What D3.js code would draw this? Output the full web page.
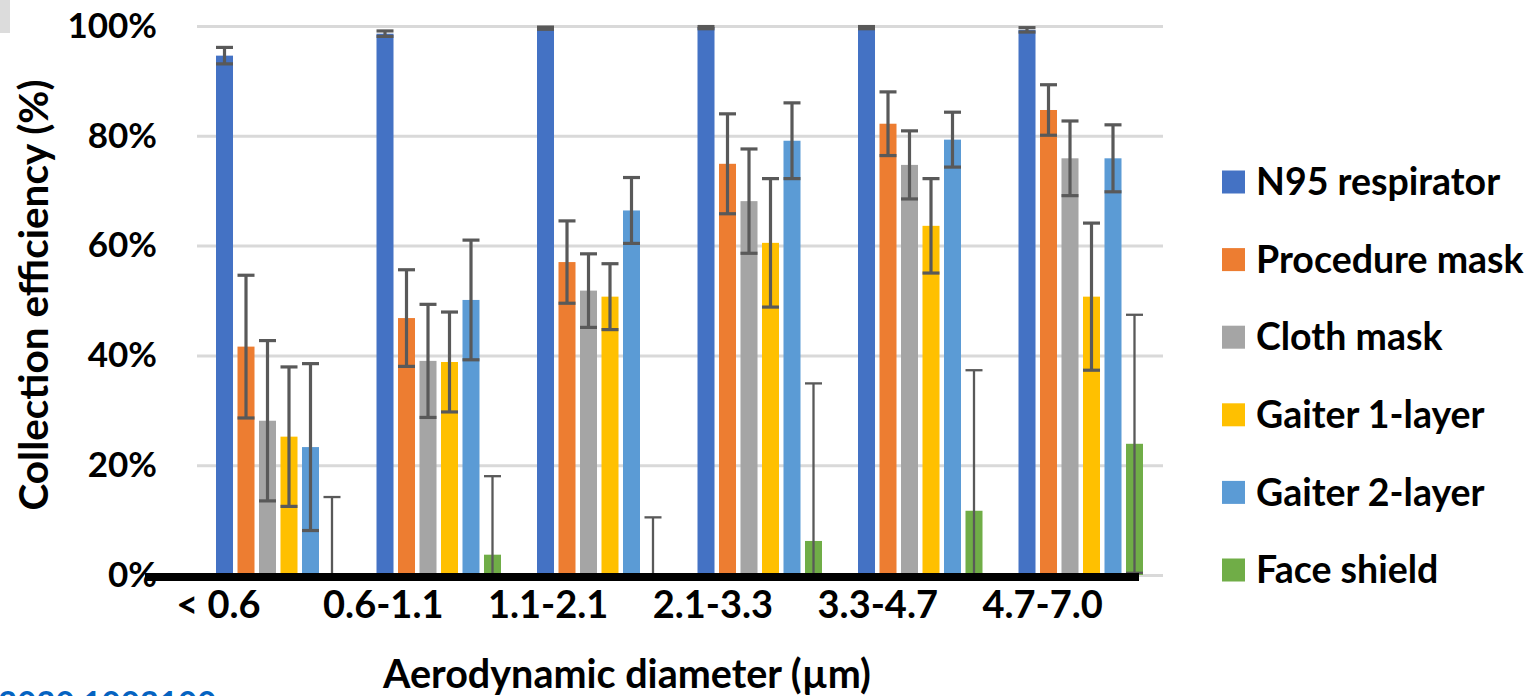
<!DOCTYPE html>
<html>
<head>
<meta charset="utf-8">
<script src="https://cdn.jsdelivr.net/npm/d3@7"></script>
<style>
  body { margin: 0; background: #fff; }
  text { font-family: Lato, "Open Sans", sans-serif; font-weight: bold; fill: #000; }
</style>
</head>
<body>
<div id="chart"></div>
<script>
// size bins (aerodynamic diameter, µm)
const categories = ["< 0.6", "0.6-1.1", "1.1-2.1", "2.1-3.3", "3.3-4.7", "4.7-7.0"];
const seriesNames = ["N95 respirator", "Procedure mask", "Cloth mask", "Gaiter 1-layer", "Gaiter 2-layer", "Face shield"];
const seriesColors = ["#4472C4", "#ED7D31", "#A5A5A5", "#FFC000", "#5B9BD5", "#70AD47"];
const yTicks = [0, 20, 40, 60, 80, 100];

// collection efficiency (%) and error bar half-width, per size bin
const n95 = [94.6, 98.6, 99.6, 99.7, 99.7, 99.3];
const n95Err = [1.5, 0.5, 0.2, 0.2, 0.2, 0.4];
const procedure = [41.6, 46.8, 57.0, 74.9, 82.2, 84.7];
const procedureErr = [13.0, 8.8, 7.5, 9.1, 5.8, 4.6];
const cloth = [28.1, 39.0, 51.8, 68.1, 74.7, 75.9];
const clothErr = [14.6, 10.3, 6.7, 9.5, 6.2, 6.8];
const gaiter1 = [25.2, 38.8, 50.7, 60.5, 63.6, 50.7];
const gaiter1Err = [12.7, 9.1, 6.0, 11.7, 8.6, 13.4];
const gaiter2 = [23.3, 50.1, 66.4, 79.1, 79.3, 75.9];
const gaiter2Err = [15.2, 10.9, 6.0, 6.9, 5.0, 6.1];
const faceShield = [0, 3.7, 0, 6.2, 11.7, 23.9];
const faceShieldErr = [14.2, 14.3, 10.5, 28.7, 25.6, 23.5];

const values = [n95, procedure, cloth, gaiter1, gaiter2, faceShield];
const errors = [n95Err, procedureErr, clothErr, gaiter1Err, gaiter2Err, faceShieldErr];

const width = 1534, height = 696;

const svg = d3.select("#chart").append("svg")
  .attr("width", width)
  .attr("height", height);

svg.append("rect").attr("width", width).attr("height", height).attr("fill", "#fff");
// grey corner left over from the crop
svg.append("rect").attr("width", 10).attr("height", 33).attr("fill", "#dcdcdc");

const y = d3.scaleLinear().domain([0, 100]).range([575, 26]);
const x0 = d3.scaleBand().domain(categories).range([198, 1161]);
const x1 = d3.scaleBand().domain(seriesNames).range([18, 142.5]).paddingInner(0.209);

// gridlines + y labels
svg.append("g")
  .attr("transform", "translate(197,0)")
  .call(d3.axisLeft(y)
    .tickValues(yTicks)
    .tickSizeInner(-966)
    .tickSizeOuter(0)
    .tickPadding(40)
    .tickFormat(d => d + "%"))
  .call(g => g.select(".domain").remove())
  .call(g => g.selectAll(".tick line").attr("stroke", "#d9d9d9").attr("stroke-width", 3))
  .call(g => g.selectAll(".tick text")
    .attr("font-size", 35)
    .attr("font-family", "Lato")
    .attr("font-weight", "bold")
    .attr("fill", "#000"));

// bars
const rows = categories.map((c, ci) => seriesNames.map((s, si) => ({
  cat: c, name: s, i: si, v: values[si][ci], e: errors[si][ci]
})));

const groups = svg.append("g").selectAll("g")
  .data(rows)
  .join("g")
    .attr("transform", (d, i) => `translate(${x0(categories[i])},0)`);

groups.selectAll("rect")
  .data(d => d.filter(b => b.v > 0))
  .join("rect")
    .attr("x", d => x1(d.name))
    .attr("y", d => y(d.v))
    .attr("width", x1.bandwidth())
    .attr("height", d => y(0) - y(d.v))
    .attr("fill", d => seriesColors[d.i]);

// error bars, clipped to the 0-100 plot range
const bw = x1.bandwidth();
const err = groups.selectAll("g.err")
  .data(d => d)
  .join("g")
    .attr("class", "err")
    .attr("stroke", "#595959")
    .attr("stroke-width", d => d.i === 5 ? 2.3 : 3.2);

err.append("line")
  .attr("x1", d => x1(d.name) + bw / 2)
  .attr("x2", d => x1(d.name) + bw / 2)
  .attr("y1", d => y(Math.min(100, d.v + d.e)))
  .attr("y2", d => y(Math.max(0, d.v - d.e)));

err.filter(d => d.v + d.e <= 100).append("line")
  .attr("x1", d => x1(d.name))
  .attr("x2", d => x1(d.name) + bw)
  .attr("y1", d => y(d.v + d.e))
  .attr("y2", d => y(d.v + d.e));

err.filter(d => d.v - d.e >= 0).append("line")
  .attr("x1", d => x1(d.name))
  .attr("x2", d => x1(d.name) + bw)
  .attr("y1", d => y(d.v - d.e))
  .attr("y2", d => y(d.v - d.e));

// heavy black baseline
svg.append("line")
  .attr("x1", 145).attr("x2", 1139)
  .attr("y1", y(0) + 2).attr("y2", y(0) + 2)
  .attr("stroke", "#000")
  .attr("stroke-width", 8);

// category labels sit a little left of their clusters in the original
const xLabel = d3.scaleBand().domain(categories).range([136, 1125]);
svg.append("g")
  .attr("transform", `translate(0,${y(0)})`)
  .call(d3.axisBottom(xLabel).tickSize(0))
  .call(g => g.select(".domain").remove())
  .call(g => g.selectAll(".tick text")
    .attr("dy", null)
    .attr("y", 43)
    .attr("font-size", 38)
    .attr("font-family", "Lato")
    .attr("font-weight", "bold")
    .attr("fill", "#000"));

// axis titles
svg.append("text")
  .attr("transform", "translate(48,295) rotate(-90)")
  .attr("text-anchor", "middle")
  .attr("font-size", 40.5)
  .text("Collection efficiency (%)");

svg.append("text")
  .attr("x", 627)
  .attr("y", 688)
  .attr("text-anchor", "middle")
  .attr("font-size", 39.5)
  .text("Aerodynamic diameter (µm)");

// legend
const legendY = d3.scalePoint().domain(seriesNames).range([182, 570]);
const legend = svg.append("g")
  .attr("transform", "translate(1222,0)")
  .selectAll("g")
  .data(seriesNames)
  .join("g")
    .attr("transform", d => `translate(0,${legendY(d)})`);

legend.append("rect")
  .attr("y", -11.5)
  .attr("width", 23)
  .attr("height", 23)
  .attr("fill", (d, i) => seriesColors[i]);

legend.append("text")
  .attr("x", 34)
  .attr("dy", "0.35em")
  .attr("font-size", 37.5)
  .text(d => d);

// doi line, cut off by the bottom edge as in the source
svg.append("text")
  .attr("x", -2)
  .attr("y", 715)
  .attr("font-family", "Lato")
  .attr("font-weight", "normal")
  .attr("font-size", 33)
  .style("fill", "#0563C1")
  .text("2020.1002100");
</script>
</body>
</html>
